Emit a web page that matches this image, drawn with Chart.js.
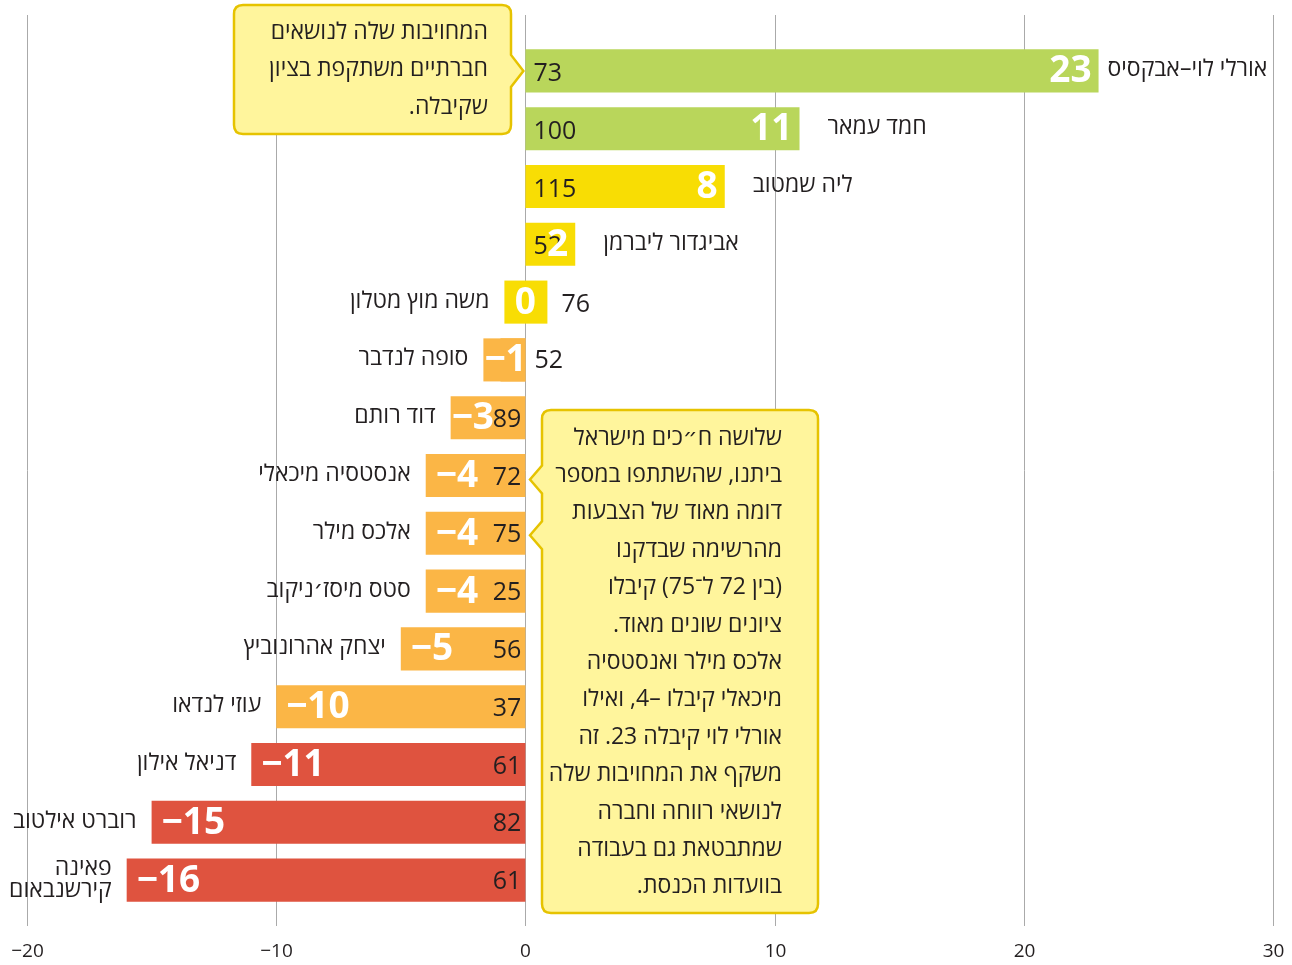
<!DOCTYPE html>
<html lang="he">
<head>
<meta charset="utf-8">
<title>ציונים</title>
<script src="https://cdn.jsdelivr.net/npm/chart.js@4.4.1/dist/chart.umd.min.js"></script>
<style>
html,body{margin:0;padding:0;background:#fff}
canvas{display:block}
</style>
</head>
<body>
<canvas id="chart" width="1292" height="965"></canvas>
<script>
'use strict';
// data
const names = ['אורלי לוי–אבקסיס','חמד עמאר','ליה שמטוב','אביגדור ליברמן','משה מוץ מטלון','סופה לנדבר','דוד רותם',
  'אנסטסיה מיכאלי','אלכס מילר','סטס מיסז׳ניקוב','יצחק אהרונוביץ','עוזי לנדאו','דניאל אילון','רוברט אילטוב',['פאינה','קירשנבאום']];
const scores = [23,11,8,2,0,-1,-3,-4,-4,-4,-5,-10,-11,-15,-16];
const votes  = [73,100,115,52,76,52,89,72,75,25,56,37,61,82,61];
const barColors = ['#b9d65b','#b9d65b','#f8dd04','#f8dd04','#f8dd04','#fbb646','#fbb646','#fbb646','#fbb646','#fbb646','#fbb646','#fbb646','#df533f','#df533f','#df533f'];
const xTicks = [-20,-10,0,10,20,30];
const noteTop = ['המחויבות שלה לנושאים','חברתיים משתקפת בציון','שקיבלה.'];
const noteSide = ['שלושה ח״כים מישראל','ביתנו, שהשתתפו במספר','דומה מאוד של הצבעות','מהרשימה שבדקנו',
  '(בין 72 ל־75) קיבלו','ציונים שונים מאוד.','אלכס מילר ואנסטסיה','מיכאלי קיבלו \u202E–4\u202C, ואילו','אורלי לוי קיבלה 23. זה',
  'משקף את המחויבות שלה','לנושאי רווחה וחברה','שמתבטאת גם בעבודה','בוועדות הכנסת.'];

const FONT = "'Open Sans','DejaVu Sans',sans-serif";
const INK = '#231f20';
const fmt = v => v < 0 ? '\u2212' + Math.abs(v) : String(v);

function callout(ctx, l, t, r, b, rad, rightNotches, leftNotches) {
  ctx.beginPath();
  ctx.moveTo(l + rad, t);
  ctx.lineTo(r - rad, t);
  ctx.quadraticCurveTo(r, t, r, t + rad);
  rightNotches.forEach(n => { ctx.lineTo(r, n.y - n.h); ctx.lineTo(n.tip, n.y); ctx.lineTo(r, n.y + n.h); });
  ctx.lineTo(r, b - rad);
  ctx.quadraticCurveTo(r, b, r - rad, b);
  ctx.lineTo(l + rad, b);
  ctx.quadraticCurveTo(l, b, l, b - rad);
  leftNotches.slice().reverse().forEach(n => { ctx.lineTo(l, n.y + n.h); ctx.lineTo(n.tip, n.y); ctx.lineTo(l, n.y - n.h); });
  ctx.lineTo(l, t + rad);
  ctx.quadraticCurveTo(l, t, l + rad, t);
  ctx.closePath();
  ctx.fillStyle = '#fff59c';
  ctx.fill();
  ctx.lineWidth = 2.5;
  ctx.strokeStyle = '#e6c300';
  ctx.stroke();
}

const annot = {
  id: 'annot',
  beforeDatasetsDraw(chart) {
    const {ctx, scales: {x}} = chart;
    ctx.save();
    ctx.strokeStyle = '#aaaaaa';
    ctx.lineWidth = 1;
    ctx.font = '19px ' + FONT;
    ctx.fillStyle = INK;
    ctx.textAlign = 'center';
    ctx.textBaseline = 'middle';
    xTicks.forEach(v => {
      const px = Math.round(x.getPixelForValue(v)) + 0.5;
      ctx.beginPath(); ctx.moveTo(px, 15); ctx.lineTo(px, 926); ctx.stroke();
      ctx.fillText(fmt(v), px, 952);
    });
    ctx.restore();
  },
  afterDatasetsDraw(chart) {
    const {ctx, scales: {x}} = chart;
    const meta = chart.getDatasetMeta(0);
    const x0 = x.getPixelForValue(0);
    ctx.save();
    ctx.textBaseline = 'middle';
    meta.data.forEach((bar, i) => {
      const v = scores[i], y = bar.y, xe = bar.x;
      let leftEdge = Math.min(xe, x0);
      let rightEdge = Math.max(xe, x0);
      // small label box behind values too short for their bar
      if (v === 0) {
        ctx.fillStyle = barColors[i];
        ctx.fillRect(x0 - 21, y - bar.height / 2, 43, bar.height);
        leftEdge = x0 - 21; rightEdge = x0 + 22;
      } else if (v < 0 && x0 - xe < 40) {
        ctx.fillStyle = barColors[i];
        ctx.fillRect(x0 - 42, y - bar.height / 2, 42, bar.height);
        leftEdge = x0 - 42;
      }
      ctx.direction = 'ltr';
      // vote counts
      ctx.font = '25px ' + FONT;
      ctx.fillStyle = INK;
      if (v > 0) { ctx.textAlign = 'left'; ctx.fillText(String(votes[i]), x0 + 8, y + 3); }
      else if (v === 0) { ctx.textAlign = 'left'; ctx.fillText(String(votes[i]), rightEdge + 14, y + 3); }
      else if (x0 - leftEdge < 60) { ctx.textAlign = 'left'; ctx.fillText(String(votes[i]), x0 + 9, y + 1); }
      else { ctx.textAlign = 'right'; ctx.fillText(String(votes[i]), x0 - 4, y + 2); }
      // score
      ctx.font = 'bold 37px ' + FONT;
      ctx.fillStyle = '#ffffff';
      if (v > 0) { ctx.textAlign = 'right'; ctx.fillText(fmt(v), xe - 7, y + 1); }
      else if (v === 0) { ctx.textAlign = 'center'; ctx.fillText(fmt(v), x0, y + 1); }
      else { ctx.textAlign = 'left'; ctx.fillText(fmt(v), leftEdge + (x0 - leftEdge < 80 ? 1 : 10), y + 1); }
      // name
      ctx.direction = 'rtl';
      ctx.font = '23px ' + FONT;
      ctx.fillStyle = INK;
      const lines = Array.isArray(names[i]) ? names[i] : [names[i]];
      if (v > 0) {
        ctx.textAlign = 'left';
        const w = ctx.measureText(lines[0]).width;
        const nx = rightEdge + 28 + w > 1270 ? rightEdge + 9 : rightEdge + 28;
        ctx.fillText(lines[0], nx, y - 1);
      } else {
        ctx.textAlign = 'right';
        lines.forEach((ln, k) => ctx.fillText(ln, leftEdge - 15, y - 1 + (k - (lines.length - 1) / 2) * 22));
      }
    });

    // callouts
    const rowY = i => meta.data[i].y;
    callout(ctx, 234, 5, 511, 134, 9, [{y: rowY(0), h: 16, tip: x0 - 2}], []);
    callout(ctx, 542, 410, 818, 913, 9, [], [{y: rowY(7) + 4, h: 14, tip: 530}, {y: rowY(8) + 2, h: 14, tip: 530}]);
    ctx.direction = 'rtl';
    ctx.font = '23px ' + FONT;
    ctx.fillStyle = INK;
    ctx.textAlign = 'right';
    noteTop.forEach((ln, k) => ctx.fillText(ln, 488, 32 + k * 37.5));
    noteSide.forEach((ln, k) => ctx.fillText(ln, 782, 438 + k * 37.4));
    ctx.restore();
  }
};

new Chart(document.getElementById('chart'), {
  type: 'bar',
  data: {
    labels: names,
    datasets: [{ data: scores, backgroundColor: barColors, borderWidth: 0, barPercentage: 0.745, categoryPercentage: 1 }]
  },
  options: {
    indexAxis: 'y',
    responsive: false,
    animation: false,
    layout: { padding: { top: 42, left: 27, right: 19, bottom: 56 } },
    plugins: { legend: { display: false }, tooltip: { enabled: false } },
    scales: {
      y: { display: false },
      x: { display: false, min: -20, max: 30 }
    }
  },
  plugins: [annot]
});
</script>
</body>
</html>
